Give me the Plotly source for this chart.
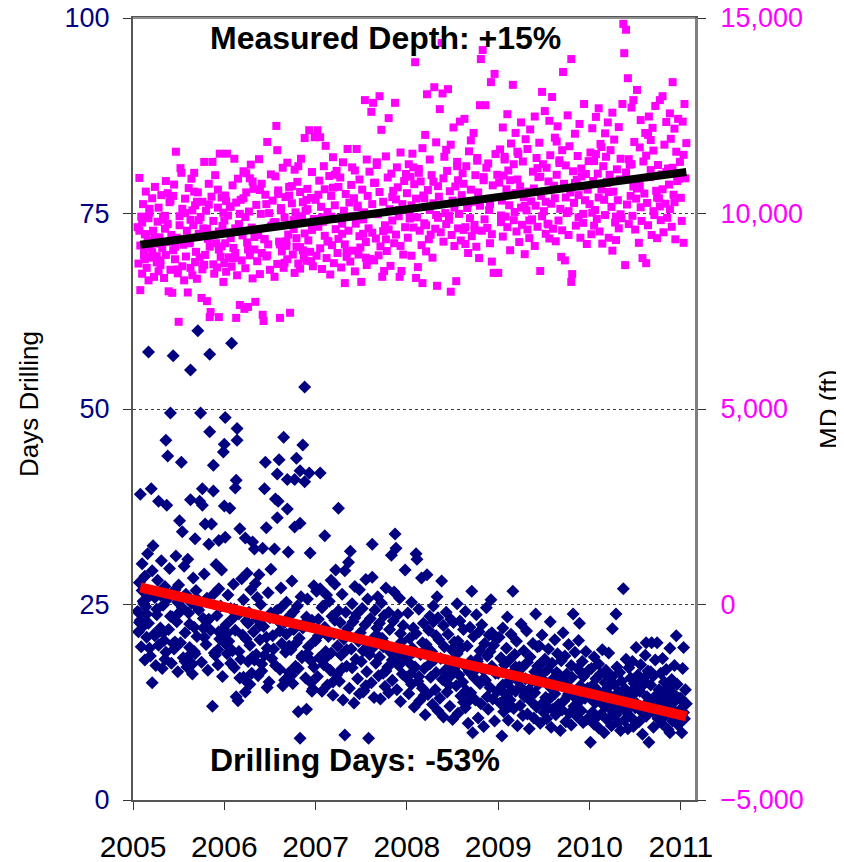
import plotly.graph_objects as go

# ---------------- data ----------------
spud_2005 = [2005.05, 2005.06, 2005.07, 2005.08, 2005.08, 2005.09, 2005.10, 2005.11, 2005.12, 2005.13,
             2005.13, 2005.14, 2005.15, 2005.16, 2005.17, 2005.17, 2005.18, 2005.19, 2005.20, 2005.21,
             2005.21, 2005.22, 2005.23, 2005.24, 2005.25, 2005.26, 2005.27, 2005.28, 2005.28, 2005.29,
             2005.30, 2005.31, 2005.32, 2005.33, 2005.34, 2005.35, 2005.36, 2005.36, 2005.37, 2005.38,
             2005.38, 2005.39, 2005.40, 2005.41, 2005.42, 2005.43, 2005.44, 2005.45, 2005.46, 2005.47,
             2005.48, 2005.49, 2005.50, 2005.51, 2005.52, 2005.53, 2005.54, 2005.54, 2005.55, 2005.56,
             2005.57, 2005.58, 2005.59, 2005.60, 2005.61, 2005.62, 2005.63, 2005.63, 2005.64, 2005.65,
             2005.66, 2005.67, 2005.68, 2005.68, 2005.69, 2005.70, 2005.71, 2005.72, 2005.73, 2005.74,
             2005.75, 2005.76, 2005.76, 2005.77, 2005.78, 2005.79, 2005.80, 2005.81, 2005.82, 2005.83,
             2005.84, 2005.84, 2005.85, 2005.86, 2005.87, 2005.88, 2005.88, 2005.89, 2005.90, 2005.91,
             2005.92, 2005.93, 2005.94, 2005.94, 2005.95, 2005.96, 2005.97, 2005.98, 2005.99, 2005.99,
             2005.07, 2005.12, 2005.18, 2005.24, 2005.30, 2005.35, 2005.41, 2005.46, 2005.51, 2005.57,
             2005.62, 2005.67, 2005.72, 2005.78, 2005.83, 2005.89, 2005.94, 2005.10, 2005.26, 2005.44,
             2005.60, 2005.77, 2005.93, 2005.15, 2005.33, 2005.49, 2005.65, 2005.81, 2005.97, 2005.70]
days_2005 = [24.1, 21.5, 27.8, 39.1, 23.0, 19.6, 30.2, 25.4, 22.3, 17.9,
             28.6, 24.7, 20.8, 31.5, 57.3, 22.6, 26.1, 18.4, 39.8, 15.0,
             29.3, 32.5, 21.2, 25.9, 17.2, 23.7, 28.1, 38.2, 19.8, 26.6,
             22.0, 30.6, 16.8, 24.9, 20.4, 27.3, 46.0, 18.9, 37.7, 44.0,
             25.7, 21.8, 29.6, 49.5, 17.5, 23.4, 56.8, 19.3, 26.9, 31.2,
             22.8, 16.4, 27.5, 35.7, 20.1, 43.2, 34.3, 24.6, 18.2, 29.9,
             21.4, 26.3, 17.0, 30.8, 23.9, 19.5, 55.0, 38.4, 25.2, 16.1,
             28.4, 22.1, 33.4, 18.7, 26.8, 20.9, 60.0, 24.3, 38.2, 49.5,
             17.6, 39.8, 37.7, 23.2, 28.9, 35.3, 19.9, 25.8, 16.6, 32.7,
             57.0, 47.1, 21.7, 35.3, 12.0, 42.8, 39.5, 26.4, 18.5, 30.1,
             23.6, 17.3, 33.2, 27.0, 20.6, 24.8, 29.4, 15.8, 44.5, 21.9,
             22.7, 25.1, 19.4, 21.0, 26.2, 18.0, 23.5, 20.2, 24.0, 17.7,
             22.5, 19.0, 25.5, 20.8, 23.1, 18.8, 21.5, 26.8, 24.4, 20.0,
             18.3, 22.0, 19.2, 23.8, 21.4, 25.3, 17.4, 22.9, 20.5, 24.7]
md_2005 = [9650, 8720, 10910, 9180, 8040, 9920, 8460, 10240, 9050, 8830,
           9470, 10560, 8610, 9300, 9880, 8290, 10020, 9140, 8870, 10390,
           9010, 9560, 8380, 10680, 9230, 8750, 9790, 8520, 10150, 9390,
           8680, 10470, 9120, 9840, 8350, 9610, 10830, 8940, 9270, 10520,
           9730, 8010, 10290, 8560, 9450, 7970, 9060, 10740, 8830, 11580,
           9380, 8470, 7230, 9930, 11160, 11040, 8650, 10120, 9200, 8290,
           10380, 8900, 9560, 7980, 10650, 9290, 8610, 9840, 10890, 8420,
           9700, 11040, 8760, 10210, 9020, 8330, 10540, 9480, 8880, 9910,
           7840, 10300, 8570, 9620, 11320, 8940, 10070, 7760, 9350, 10760,
           7350, 9150, 7480, 10430, 11320, 8700, 9810, 8460, 10980, 9240,
           8620, 10150, 9540, 7350, 11530, 8890, 10410, 9680, 8250, 10020,
           9560, 8930, 10120, 9380, 8800, 9940, 10330, 9150, 9700, 10010,
           9240, 10560, 9830, 8690, 10230, 9460, 9080, 9770, 8910, 10450,
           9330, 8680, 10610, 9470, 9920, 8570, 10080, 9610, 9160, 10300]

spud_2006 = [2006.00, 2006.00, 2006.01, 2006.01, 2006.02, 2006.03, 2006.04, 2006.05, 2006.06, 2006.07,
             2006.08, 2006.09, 2006.10, 2006.11, 2006.12, 2006.13, 2006.13, 2006.14, 2006.14, 2006.15,
             2006.16, 2006.17, 2006.18, 2006.19, 2006.20, 2006.21, 2006.22, 2006.23, 2006.23, 2006.24,
             2006.25, 2006.26, 2006.27, 2006.28, 2006.29, 2006.30, 2006.31, 2006.32, 2006.33, 2006.34,
             2006.35, 2006.36, 2006.37, 2006.38, 2006.39, 2006.40, 2006.41, 2006.42, 2006.43, 2006.44,
             2006.45, 2006.46, 2006.47, 2006.48, 2006.49, 2006.50, 2006.51, 2006.52, 2006.53, 2006.55,
             2006.56, 2006.57, 2006.58, 2006.58, 2006.59, 2006.60, 2006.61, 2006.62, 2006.63, 2006.64,
             2006.65, 2006.66, 2006.67, 2006.68, 2006.69, 2006.69, 2006.70, 2006.71, 2006.72, 2006.73,
             2006.74, 2006.75, 2006.76, 2006.77, 2006.77, 2006.78, 2006.79, 2006.80, 2006.81, 2006.82,
             2006.83, 2006.83, 2006.83, 2006.84, 2006.85, 2006.86, 2006.87, 2006.88, 2006.88, 2006.89,
             2006.90, 2006.91, 2006.92, 2006.93, 2006.94, 2006.95, 2006.96, 2006.97, 2006.98, 2006.99,
             2006.03, 2006.07, 2006.11, 2006.16, 2006.21, 2006.26, 2006.31, 2006.36, 2006.41, 2006.46,
             2006.51, 2006.56, 2006.61, 2006.66, 2006.71, 2006.76, 2006.81, 2006.86, 2006.91, 2006.96,
             2006.02, 2006.09, 2006.17, 2006.24, 2006.33, 2006.39, 2006.47, 2006.54, 2006.62, 2006.68,
             2006.74, 2006.79, 2006.85, 2006.90, 2006.95, 2006.12, 2006.28, 2006.44, 2006.59, 2006.98]
days_2006 = [45.5, 37.6, 48.9, 33.6, 22.4, 18.7, 26.2, 20.3, 37.3, 24.5,
             58.4, 19.1, 27.6, 16.9, 39.9, 40.9, 13.2, 47.5, 46.0, 12.7,
             23.8, 34.7, 18.0, 28.3, 21.1, 25.6, 15.4, 33.5, 13.8, 22.9,
             29.0, 17.7, 24.0, 19.8, 26.9, 16.2, 33.0, 21.5, 32.1, 27.7,
             18.6, 23.1, 15.9, 28.8, 20.5, 25.0, 17.4, 32.2, 22.2, 39.8,
             43.2, 34.8, 19.4, 26.5, 15.1, 23.3, 29.5, 18.1, 21.0, 32.1,
             38.5, 24.2, 41.7, 36.1, 38.2, 43.5, 16.7, 27.1, 20.0, 14.6,
             46.4, 22.7, 18.9, 25.3, 41.0, 37.2, 31.7, 16.3, 23.6, 19.2,
             28.0, 14.9, 21.8, 41.0, 34.9, 17.1, 43.7, 24.8, 11.3, 20.7,
             42.1, 35.4, 7.9, 26.0, 18.4, 45.4, 22.5, 52.8, 40.7, 15.6,
             11.6, 25.7, 19.6, 41.8, 31.6, 17.8, 23.0, 14.2, 27.4, 20.4,
             21.3, 17.5, 24.4, 19.0, 15.7, 22.6, 18.3, 25.9, 16.5, 20.8,
             23.9, 17.2, 21.6, 15.3, 19.7, 24.1, 16.8, 22.0, 18.7, 13.9,
             19.9, 23.2, 15.6, 20.6, 17.9, 22.3, 14.4, 19.3, 24.6, 21.2,
             16.0, 20.1, 18.2, 23.4, 15.0, 21.7, 14.8, 18.5, 22.9, 17.0]
md_2006 = [9820, 8730, 10460, 9240, 8510, 11530, 9950, 8880, 10170, 9370,
           8640, 10720, 9120, 11400, 8990, 7330, 10280, 9560, 8420, 10890,
           9730, 7660, 10350, 8800, 9440, 11080, 7560, 9910, 8600, 10540,
           9260, 7610, 10050, 8930, 11250, 9640, 8340, 10630, 9080, 7740,
           10220, 8780, 9510, 11390, 8450, 9990, 10760, 7410, 7250, 9350,
           10480, 8900, 11830, 9210, 10010, 8560, 11000, 9690, 10330, 8380,
           9780, 12240, 11620, 8710, 10590, 9280, 7330, 10140, 9030, 11170,
           8610, 9900, 10420, 9170, 8830, 11300, 9460, 10680, 7460, 9710,
           10260, 8950, 9600, 11120, 8480, 10030, 9370, 10810, 8720, 9930,
           10550, 9140, 8590, 11400, 9820, 10290, 8860, 11930, 9490, 10070,
           8790, 10630, 9310, 12130, 9020, 10400, 11060, 8650, 9750, 11950,
           9520, 10180, 8870, 9700, 10390, 9080, 10820, 9450, 8990, 10240,
           9660, 10950, 9210, 8740, 10460, 9830, 11210, 9060, 10110, 9580,
           10320, 8850, 9990, 11030, 9400, 10600, 8930, 9770, 10080, 9290,
           10700, 9150, 9880, 10350, 8780, 9620, 10900, 9340, 10500, 9860]

spud_2007 = [2007.00, 2007.01, 2007.02, 2007.03, 2007.04, 2007.05, 2007.05, 2007.06, 2007.07, 2007.08,
             2007.09, 2007.10, 2007.10, 2007.11, 2007.12, 2007.13, 2007.14, 2007.15, 2007.16, 2007.17,
             2007.17, 2007.18, 2007.19, 2007.20, 2007.21, 2007.22, 2007.23, 2007.24, 2007.25, 2007.25,
             2007.26, 2007.27, 2007.28, 2007.29, 2007.30, 2007.31, 2007.32, 2007.32, 2007.33, 2007.34,
             2007.35, 2007.36, 2007.37, 2007.38, 2007.39, 2007.40, 2007.40, 2007.41, 2007.42, 2007.43,
             2007.44, 2007.45, 2007.46, 2007.47, 2007.48, 2007.48, 2007.49, 2007.50, 2007.51, 2007.52,
             2007.53, 2007.54, 2007.55, 2007.56, 2007.56, 2007.57, 2007.58, 2007.59, 2007.60, 2007.61,
             2007.62, 2007.62, 2007.63, 2007.64, 2007.65, 2007.66, 2007.67, 2007.68, 2007.69, 2007.70,
             2007.70, 2007.71, 2007.72, 2007.73, 2007.74, 2007.75, 2007.76, 2007.77, 2007.78, 2007.79,
             2007.80, 2007.80, 2007.81, 2007.82, 2007.83, 2007.84, 2007.85, 2007.86, 2007.87, 2007.88,
             2007.88, 2007.89, 2007.90, 2007.91, 2007.92, 2007.93, 2007.94, 2007.95, 2007.96, 2007.97,
             2007.98, 2007.99, 2007.03, 2007.13, 2007.21, 2007.29, 2007.46, 2007.55, 2007.67, 2007.74,
             2007.84, 2007.93, 2007.07, 2007.19, 2007.34, 2007.43, 2007.52, 2007.64, 2007.77, 2007.91]
days_2007 = [20.4, 26.7, 15.8, 23.1, 18.2, 41.8, 27.0, 21.6, 13.9, 24.8,
             17.3, 33.8, 22.1, 19.0, 26.2, 14.7, 20.9, 25.4, 16.6, 28.1,
             18.8, 23.5, 13.4, 21.2, 27.6, 29.4, 16.0, 19.7, 37.3, 24.2,
             15.2, 22.7, 18.5, 26.3, 12.8, 20.6, 8.3, 29.3, 24.0, 17.1,
             21.9, 30.4, 14.3, 31.8, 19.3, 25.1, 16.9, 22.8, 12.4, 27.3,
             18.0, 23.8, 15.5, 20.3, 26.9, 13.6, 21.4, 17.7, 24.5, 19.1,
             14.0, 22.4, 28.2, 16.4, 20.0, 25.7, 7.9, 18.6, 23.2, 15.0,
             32.7, 28.5, 19.5, 13.1, 24.3, 17.5, 21.1, 26.0, 15.9, 22.6,
             18.3, 12.9, 25.2, 20.7, 16.2, 23.6, 14.5, 27.1, 19.8, 17.0,
             24.0, 13.7, 21.8, 18.9, 31.3, 15.3, 22.9, 26.6, 34.0, 32.2,
             19.4, 14.1, 23.7, 17.2, 25.8, 12.6, 20.2, 16.1, 22.3, 18.1,
             29.4, 15.7, 21.0, 18.4, 23.0, 16.8, 20.5, 14.6, 22.0, 19.6,
             17.9, 21.3, 24.6, 15.1, 19.2, 23.3, 13.8, 20.8, 16.5, 18.7]
md_2007 = [10350, 8920, 12130, 9660, 10840, 11950, 9110, 10170, 8580, 9790,
           11210, 9430, 10620, 11730, 8860, 10040, 9280, 10960, 8440, 9920,
           10450, 9190, 11440, 8730, 10210, 9600, 11090, 8990, 10680, 9350,
           9870, 10920, 8620, 9480, 11310, 10070, 8220, 9210, 10500, 8890,
           11650, 9560, 10280, 8770, 10730, 9930, 11180, 9050, 10390, 8520,
           9740, 11650, 10160, 8950, 9420, 10870, 9130, 8250, 10610, 9850,
           10030, 12900, 9270, 11380, 8680, 10450, 9620, 11070, 8840, 12600,
           10240, 9510, 12830, 8800, 10790, 9360, 11240, 9980, 8930, 10550,
           13000, 9160, 12140, 8380, 10300, 8530, 9700, 11460, 9040, 10920,
           12440, 9590, 10110, 8660, 11020, 9820, 10580, 9240, 12830, 10360,
           9460, 11180, 10670, 9930, 8380, 11560, 8530, 10240, 8950, 10830,
           9650, 11010, 10480, 9300, 10990, 9740, 10200, 8870, 11310, 9550,
           10420, 9170, 9900, 10660, 9020, 11100, 9480, 10780, 9340, 10090]

spud_2008 = [2008.00, 2008.01, 2008.02, 2008.03, 2008.04, 2008.05, 2008.05, 2008.06, 2008.07, 2008.08,
             2008.09, 2008.10, 2008.10, 2008.11, 2008.12, 2008.13, 2008.14, 2008.15, 2008.16, 2008.17,
             2008.17, 2008.18, 2008.19, 2008.20, 2008.21, 2008.22, 2008.23, 2008.24, 2008.25, 2008.25,
             2008.26, 2008.27, 2008.28, 2008.29, 2008.30, 2008.31, 2008.32, 2008.32, 2008.33, 2008.34,
             2008.35, 2008.36, 2008.37, 2008.38, 2008.39, 2008.40, 2008.40, 2008.41, 2008.42, 2008.43,
             2008.44, 2008.45, 2008.46, 2008.47, 2008.48, 2008.48, 2008.49, 2008.50, 2008.51, 2008.52,
             2008.53, 2008.54, 2008.55, 2008.56, 2008.56, 2008.57, 2008.58, 2008.59, 2008.60, 2008.61,
             2008.62, 2008.62, 2008.63, 2008.64, 2008.65, 2008.66, 2008.67, 2008.68, 2008.69, 2008.70,
             2008.70, 2008.71, 2008.72, 2008.73, 2008.74, 2008.75, 2008.76, 2008.77, 2008.78, 2008.79,
             2008.80, 2008.80, 2008.81, 2008.82, 2008.83, 2008.84, 2008.85, 2008.86, 2008.87, 2008.88,
             2008.88, 2008.89, 2008.90, 2008.91, 2008.92, 2008.93, 2008.94, 2008.95, 2008.96, 2008.97,
             2008.98, 2008.99, 2008.03, 2008.13, 2008.21, 2008.29, 2008.46, 2008.55, 2008.67, 2008.74,
             2008.84, 2008.93, 2008.07, 2008.19, 2008.34, 2008.43, 2008.52, 2008.64, 2008.77, 2008.91]
days_2008 = [18.2, 23.9, 13.6, 20.7, 16.1, 25.3, 14.8, 19.4, 22.0, 11.9,
             17.0, 31.5, 21.3, 30.8, 15.2, 24.4, 12.7, 18.6, 28.4, 20.1,
             14.3, 22.6, 16.8, 10.9, 19.9, 28.8, 13.5, 21.7, 17.4, 23.5,
             15.7, 19.0, 12.2, 24.8, 17.9, 14.1, 21.0, 16.3, 26.0, 11.4,
             20.5, 13.0, 18.1, 28.0, 15.4, 22.3, 10.6, 19.6, 16.6, 24.0,
             13.8, 21.2, 17.6, 12.0, 23.1, 15.9, 19.2, 10.3, 22.7, 16.9,
             18.8, 14.6, 25.1, 11.1, 20.3, 16.0, 22.9, 13.3, 19.5, 15.1,
             21.8, 12.5, 17.2, 24.1, 14.0, 19.7, 9.8, 16.4, 22.1, 13.7,
             17.8, 26.7, 8.6, 20.9, 15.6, 12.8, 23.7, 18.0, 10.5, 21.5,
             14.9, 19.1, 12.3, 22.4, 16.7, 9.4, 20.0, 15.3, 24.6, 13.2,
             18.4, 11.6, 21.1, 14.4, 25.6, 17.1, 12.9, 19.8, 10.1, 16.2,
             20.6, 13.9, 17.5, 15.8, 19.3, 22.8, 14.7, 18.7, 12.6, 16.5,
             15.5, 21.4, 18.9, 13.4, 23.3, 16.0, 20.2, 11.8, 17.7, 19.0]
md_2008 = [10520, 9380, 11260, 9870, 10940, 8920, 10210, 11530, 9640, 10750,
           13870, 8350, 10380, 9900, 8630, 11140, 9560, 10820, 9190, 11670,
           8220, 10460, 9750, 12010, 9030, 13050, 10600, 9340, 11380, 10090,
           9460, 10980, 8870, 10260, 13230, 9610, 11820, 9960, 8150, 10700,
           10430, 12670, 9520, 14360, 13070, 10900, 9280, 11450, 10010, 9730,
           11090, 13180, 9840, 10570, 8000, 11760, 9450, 10330, 12200, 9170,
           10690, 8270, 11320, 9620, 10850, 9990, 12350, 9310, 10470, 11030,
           9580, 10760, 12420, 9220, 11210, 10140, 8990, 11590, 9880, 10610,
           11870, 9420, 10300, 12060, 9710, 10980, 9150, 11350, 10540, 8860,
           10200, 12770, 13950, 9560, 14180, 10850, 9850, 12770, 11170, 10370,
           9630, 11280, 10090, 9240, 13360, 8770, 10720, 8480, 13570, 11520,
           8480, 10990, 10050, 11040, 9700, 10810, 9940, 11210, 10260, 9580,
           10930, 9470, 11180, 10390, 9890, 11630, 10150, 9650, 11420, 10240]

spud_2009 = [2009.00, 2009.01, 2009.02, 2009.03, 2009.04, 2009.05, 2009.05, 2009.06, 2009.07, 2009.08,
             2009.09, 2009.10, 2009.10, 2009.11, 2009.12, 2009.13, 2009.14, 2009.15, 2009.16, 2009.17,
             2009.17, 2009.18, 2009.19, 2009.20, 2009.21, 2009.22, 2009.23, 2009.24, 2009.25, 2009.25,
             2009.26, 2009.27, 2009.28, 2009.29, 2009.30, 2009.31, 2009.32, 2009.32, 2009.33, 2009.34,
             2009.35, 2009.36, 2009.37, 2009.38, 2009.39, 2009.40, 2009.40, 2009.41, 2009.42, 2009.43,
             2009.44, 2009.45, 2009.46, 2009.47, 2009.48, 2009.48, 2009.49, 2009.50, 2009.51, 2009.52,
             2009.53, 2009.54, 2009.55, 2009.56, 2009.56, 2009.57, 2009.58, 2009.59, 2009.60, 2009.61,
             2009.62, 2009.62, 2009.63, 2009.64, 2009.65, 2009.66, 2009.67, 2009.68, 2009.69, 2009.70,
             2009.70, 2009.71, 2009.72, 2009.73, 2009.74, 2009.75, 2009.76, 2009.77, 2009.78, 2009.79,
             2009.80, 2009.80, 2009.81, 2009.82, 2009.83, 2009.84, 2009.85, 2009.86, 2009.87, 2009.88,
             2009.88, 2009.89, 2009.90, 2009.91, 2009.92, 2009.93, 2009.94, 2009.95, 2009.96, 2009.97,
             2009.98, 2009.99, 2009.03, 2009.13, 2009.21, 2009.29, 2009.46, 2009.55, 2009.67, 2009.74,
             2009.84, 2009.93, 2009.07, 2009.19, 2009.34, 2009.43, 2009.52, 2009.64, 2009.77, 2009.91]
days_2009 = [16.2, 20.8, 12.4, 18.1, 8.2, 14.7, 22.0, 11.3, 17.3, 13.5,
             19.4, 23.4, 15.0, 10.2, 17.9, 12.8, 21.2, 14.1, 26.7, 16.5,
             11.7, 18.6, 13.9, 20.3, 9.5, 15.8, 17.0, 12.1, 22.5, 14.4,
             16.9, 10.8, 19.1, 13.2, 15.5, 21.6, 11.0, 17.6, 14.0, 9.1,
             18.3, 12.6, 15.2, 20.0, 10.5, 16.4, 13.7, 23.8, 11.9, 17.1,
             14.8, 19.7, 9.8, 16.0, 12.3, 21.1, 15.4, 11.2, 18.0, 13.1,
             10.4, 16.7, 19.3, 12.9, 14.5, 22.8, 9.3, 17.5, 11.6, 15.6,
             13.6, 20.5, 10.9, 16.3, 18.7, 12.2, 14.9, 8.9, 17.8, 11.5,
             15.1, 21.4, 12.7, 18.4, 10.0, 16.1, 13.3, 19.9, 11.1, 14.2,
             17.2, 9.6, 15.7, 23.8, 12.0, 18.9, 13.8, 10.7, 16.8, 20.4,
             12.5, 22.6, 14.6, 11.4, 17.7, 9.9, 15.9, 13.0, 19.0, 10.3,
             14.3, 16.6, 18.2, 12.0, 15.3, 13.4, 17.4, 11.8, 16.0, 14.9,
             13.1, 15.8, 12.8, 17.0, 14.1, 19.6, 11.9, 15.0, 13.6, 16.3]
md_2009 = [8480, 10790, 11640, 9780, 10330, 12200, 9410, 10970, 11380, 9920,
           10620, 12540, 9650, 11100, 10210, 9060, 11790, 10480, 13290, 9830,
           11260, 10040, 12060, 9540, 10870, 11520, 9270, 10690, 12330, 10150,
           9710, 11330, 10420, 8960, 11900, 10080, 9590, 11650, 10560, 9370,
           12150, 10310, 9850, 11070, 10640, 9170, 12480, 10200, 11420, 9660,
           10930, 11810, 8530, 10450, 13110, 9930, 11260, 10060, 12620, 9480,
           11170, 9740, 10820, 12370, 9360, 11490, 10250, 12980, 9610, 10710,
           10390, 11940, 9290, 10990, 12230, 9820, 11360, 10120, 8890, 11620,
           9570, 13620, 10760, 8800, 11230, 10010, 12510, 9450, 11720, 10540,
           13950, 8250, 8450, 11080, 10270, 12040, 9690, 10860, 11470, 9900,
           10470, 12290, 9380, 11150, 10690, 9760, 12800, 10340, 11010, 9220,
           10610, 11340, 9950, 10850, 11580, 10200, 10940, 9720, 11290, 10410,
           10780, 9990, 11450, 10520, 9820, 11160, 10300, 11840, 10060, 10950]

spud_2010 = [2010.00, 2010.01, 2010.02, 2010.03, 2010.04, 2010.05, 2010.05, 2010.06, 2010.07, 2010.08,
             2010.09, 2010.10, 2010.10, 2010.11, 2010.12, 2010.13, 2010.14, 2010.15, 2010.16, 2010.17,
             2010.17, 2010.18, 2010.19, 2010.20, 2010.21, 2010.22, 2010.23, 2010.24, 2010.25, 2010.25,
             2010.26, 2010.27, 2010.28, 2010.29, 2010.30, 2010.31, 2010.32, 2010.32, 2010.33, 2010.34,
             2010.35, 2010.36, 2010.37, 2010.38, 2010.39, 2010.40, 2010.40, 2010.41, 2010.42, 2010.43,
             2010.44, 2010.45, 2010.46, 2010.47, 2010.48, 2010.48, 2010.49, 2010.50, 2010.51, 2010.52,
             2010.53, 2010.54, 2010.55, 2010.56, 2010.56, 2010.57, 2010.58, 2010.59, 2010.60, 2010.61,
             2010.62, 2010.62, 2010.63, 2010.64, 2010.65, 2010.66, 2010.67, 2010.68, 2010.69, 2010.70,
             2010.70, 2010.71, 2010.72, 2010.73, 2010.74, 2010.75, 2010.76, 2010.77, 2010.78, 2010.79,
             2010.80, 2010.80, 2010.81, 2010.82, 2010.83, 2010.84, 2010.85, 2010.86, 2010.87, 2010.88,
             2010.88, 2010.89, 2010.90, 2010.91, 2010.92, 2010.93, 2010.94, 2010.95, 2010.96, 2010.97,
             2010.98, 2010.99, 2010.03, 2010.13, 2010.21, 2010.29, 2010.46, 2010.55, 2010.67, 2010.74,
             2010.84, 2010.93, 2010.07, 2010.19, 2010.34, 2010.43, 2010.52, 2010.64, 2010.77, 2010.91]
days_2010 = [13.1, 7.4, 16.8, 11.2, 14.6, 9.7, 18.3, 12.4, 15.5, 10.6,
             14.0, 17.4, 9.2, 12.9, 16.1, 11.0, 19.2, 13.6, 8.6, 15.0,
             12.0, 16.6, 10.3, 14.4, 18.8, 11.7, 13.3, 9.5, 21.9, 15.8,
             10.9, 14.8, 12.6, 23.8, 17.0, 9.9, 13.8, 11.5, 16.3, 8.9,
             15.2, 12.2, 27.0, 10.2, 14.2, 18.0, 11.3, 13.0, 9.1, 16.9,
             12.8, 15.6, 10.5, 17.7, 13.5, 9.4, 14.9, 11.8, 19.5, 12.3,
             16.0, 10.0, 13.9, 11.4, 17.3, 14.5, 8.4, 15.3, 12.1, 18.5,
             10.7, 20.1, 13.2, 16.5, 7.4, 11.9, 14.7, 20.1, 12.7, 9.3,
             15.9, 11.1, 17.9, 13.4, 20.1, 10.4, 14.1, 12.5, 16.2, 9.8,
             13.7, 18.1, 11.6, 15.1, 10.8, 16.7, 12.9, 9.0, 14.3, 19.4,
             8.6, 12.2, 15.4, 10.1, 13.6, 17.2, 11.3, 21.0, 14.8, 9.6,
             13.0, 11.5, 14.6, 12.4, 15.7, 10.9, 13.9, 12.0, 16.4, 11.7,
             14.2, 12.6, 10.8, 15.0, 13.1, 11.9, 14.5, 16.1, 12.3, 13.4]
md_2010 = [10240, 11560, 9470, 12180, 10830, 9690, 11340, 10090, 12470, 9860,
           11020, 10410, 12690, 9540, 11780, 10620, 9230, 11210, 10350, 12050,
           9960, 11450, 10780, 12330, 9380, 10990, 11620, 10170, 9050, 12580,
           10560, 11890, 9770, 9320, 11130, 10340, 12210, 9620, 10870, 11400,
           9880, 12800, 14850, 14100, 8680, 14700, 11050, 10230, 13460, 9730,
           11250, 10450, 12710, 9940, 12900, 10690, 11830, 9590, 10380, 13160,
           10820, 9250, 11690, 10160, 12390, 9810, 8860, 11330, 10510, 12060,
           8730, 11480, 10270, 9700, 12480, 10930, 11110, 9450, 12190, 10060,
           11610, 9960, 12750, 10580, 9370, 11240, 10390, 12900, 9830, 11000,
           10620, 13000, 9520, 11760, 10250, 12340, 9890, 11150, 10740, 12560,
           10110, 11910, 9660, 13360, 10480, 12170, 9340, 11580, 10830, 12420,
           10890, 11320, 10020, 11700, 10550, 9920, 11260, 10700, 11880, 10410,
           11060, 10290, 11520, 10810, 9980, 11390, 10640, 12010, 10180, 11170]

spud_2011 = [2011.00, 2011.01, 2011.02, 2011.03, 2011.03, 2011.04, 2011.05, 2011.06]
days_2011 = [13.0, 8.6, 16.8, 11.2, 19.5, 10.4, 14.1, 12.3]
md_2011 = [10400, 9810, 12350, 11500, 9250, 12800, 10900, 11800]

# Trend lines (end points)
trend_years = [2005.08, 2011.06]
md_trend = [9200, 11060]
days_trend = [27.2, 10.7]

year_ticks = [2005, 2006, 2007, 2008, 2009, 2010, 2011]
days_ticks = [0, 25, 50, 75, 100]
md_ticks = [-5000, 0, 5000, 10000, 15000]

# ---------------- assemble ----------------
spud, days, md = [], [], []
for s, d, m in [(spud_2005, days_2005, md_2005), (spud_2006, days_2006, md_2006),
                (spud_2007, days_2007, md_2007), (spud_2008, days_2008, md_2008),
                (spud_2009, days_2009, md_2009), (spud_2010, days_2010, md_2010),
                (spud_2011, days_2011, md_2011)]:
    n = min(len(s), len(d), len(m))
    spud += s[:n]
    days += d[:n]
    md += m[:n]

FONT = "Arial, 'Liberation Sans', sans-serif"
NAVY = "#000080"
MAGENTA = "#FF00FF"

# plot area in page pixels: x 133..695, y 18..800 (page has an 8px body margin)
PL, PR, PT, PB = 133, 695, 18, 800
PW, PH = PR - PL, PB - PT

fig = go.Figure()
fig.add_trace(go.Scatter(x=spud, y=days, mode="markers", yaxis="y",
                         marker=dict(symbol="diamond", size=10, color=NAVY, line=dict(width=0)),
                         showlegend=False, hoverinfo="skip"))
fig.add_trace(go.Scatter(x=trend_years, y=days_trend, mode="lines", yaxis="y",
                         line=dict(color="#FF0000", width=10), showlegend=False, hoverinfo="skip"))
fig.add_trace(go.Scatter(x=spud, y=md, mode="markers", yaxis="y2",
                         marker=dict(symbol="square", size=8, color=MAGENTA, line=dict(width=0)),
                         showlegend=False, hoverinfo="skip"))
fig.add_trace(go.Scatter(x=trend_years, y=md_trend, mode="lines", yaxis="y2",
                         line=dict(color="#000000", width=8), showlegend=False, hoverinfo="skip"))

fig.update_layout(
    width=844, height=862,
    margin=dict(l=PL - 8, r=844 - (PR - 8), t=PT - 8, b=862 - (PB - 8), autoexpand=False),
    paper_bgcolor="white", plot_bgcolor="white",
    font=dict(family=FONT, color="black"),
    xaxis=dict(range=[2005, 2011.155], tickvals=year_ticks, ticktext=[str(y) for y in year_ticks],
               showgrid=False, zeroline=False, showline=True, linecolor="#555555", linewidth=2,
               mirror=True, ticks="outside", ticklen=8, tickwidth=1, tickcolor="#333333",
               tickfont=dict(size=30, color="black", family=FONT), ticklabelstandoff=11,
               ticklabeloverflow="allow", automargin=False),
    yaxis=dict(range=[0, 100], tickvals=days_ticks, showgrid=True, gridcolor="#404040",
               griddash="dot", gridwidth=1, zeroline=False, showline=True, linecolor="#555555",
               linewidth=2, ticks="outside", ticklen=8, tickwidth=1, tickcolor="#333333",
               tickfont=dict(size=27, color=NAVY, family=FONT), ticklabelstandoff=8,
               ticklabeloverflow="allow", automargin=False),
    yaxis2=dict(range=[-5000, 15000], tickvals=md_ticks, tickformat=",", overlaying="y",
                side="right", showgrid=False, zeroline=False, showline=True, linecolor="#808080",
                linewidth=3, ticks="outside", ticklen=8, tickwidth=1, tickcolor="#333333",
                tickfont=dict(size=27, color=MAGENTA, family=FONT), ticklabelstandoff=9,
                ticklabeloverflow="allow", automargin=False),
    shapes=[dict(type="line", xref="paper", yref="paper", x0=0, x1=1, y0=1, y1=1,
                 line=dict(color="#909090", width=2), layer="above")],
    annotations=[
        dict(text="<b>Measured Depth: +15%</b>", xref="paper", yref="paper",
             x=(385 - PL) / PW, y=(PB - 38) / PH, showarrow=False,
             font=dict(size=32, color="black", family=FONT), xanchor="center", yanchor="middle"),
        dict(text="<b>Drilling Days: -53%</b>", xref="paper", yref="paper",
             x=(355 - PL) / PW, y=(PB - 760) / PH, showarrow=False,
             font=dict(size=32, color="black", family=FONT), xanchor="center", yanchor="middle"),
        dict(text="Days Drilling", xref="paper", yref="paper", x=(29 - PL) / PW,
             y=(PB - 404) / PH, textangle=-90, showarrow=False,
             font=dict(size=26, color="black", family=FONT), xanchor="center", yanchor="middle"),
        dict(text="MD (ft)", xref="paper", yref="paper", x=(829 - PL) / PW,
             y=(PB - 410) / PH, textangle=-90, showarrow=False,
             font=dict(size=26, color="black", family=FONT), xanchor="center", yanchor="middle"),
    ],
)

fig.write_html("out.html")
